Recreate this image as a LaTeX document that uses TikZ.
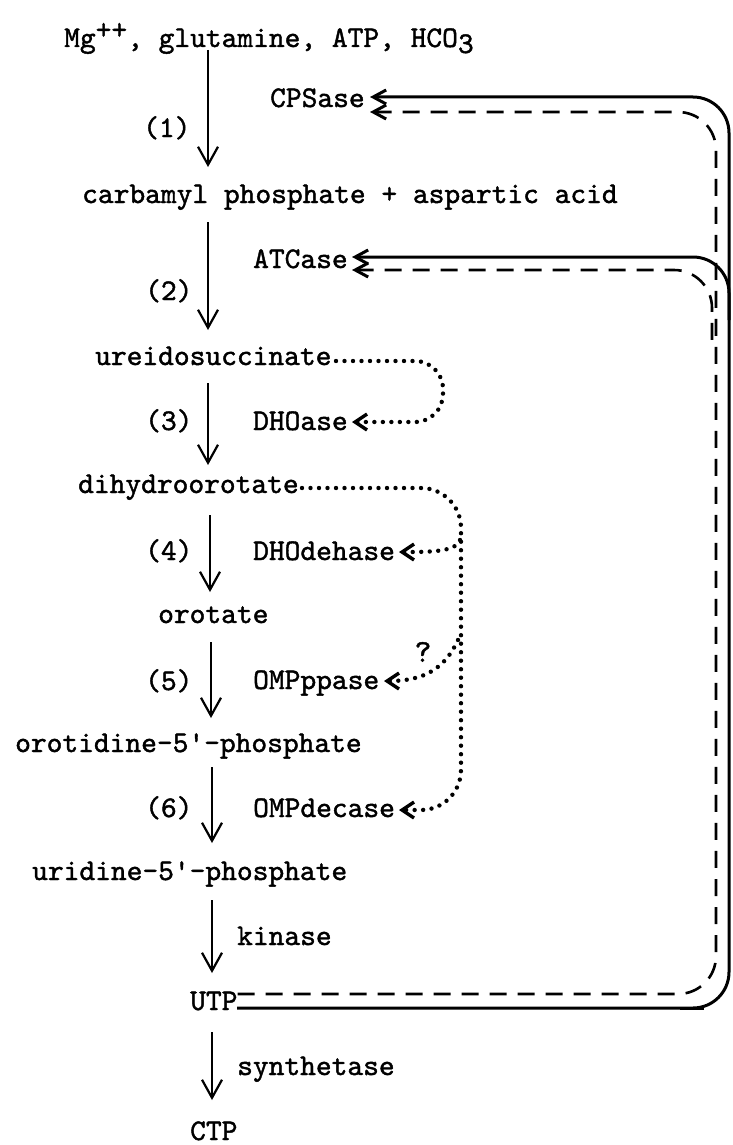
\documentclass[tikz,border=0pt]{standalone}
\usepackage{fontspec}
\newfontfamily\twfont{lmmono10-regular.otf}[FakeBold=1.4]
\usetikzlibrary{arrows.meta}
\begin{document}
\begin{tikzpicture}[x=1pt,y=-1pt,
  txt/.style={font=\twfont\fontsize{30}{30}\selectfont, inner sep=0pt, anchor=base west},
  rx/.style={-{Straight Barb[length=18pt,width=20pt,line width=2.2pt]}, line width=2.2pt},
  fbtip/.style={{Straight Barb[length=13pt,width=14pt,line width=3pt]}-},
  solidfb/.style={line width=3pt, rounded corners=36pt},
  dashfb/.style={line width=2.6pt, dash pattern=on 17pt off 11pt, rounded corners=38pt},
  dotfb/.style={line width=4.4pt, line cap=round, dash pattern=on 0pt off 8.5pt},
  dottip/.style={-{Straight Barb[length=12pt,width=16pt,line width=3.4pt]}}
]
\useasboundingbox (0,0) rectangle (732,1145);

% texts
\node[txt] (m0) at (64,47) {Mg\raisebox{8pt}{++}, glutamine, ATP, HCO\raisebox{-6pt}{3}};
\node[txt] (n1) at (143,137) {(1)};
\node[txt] (cps) at (270,107) {CPSase};
\node[txt] (cp) at (82,203) {carbamyl phosphate + aspartic acid};
\node[txt] (n2) at (145,300) {(2)};
\node[txt] (atc) at (253,268) {ATCase};
\node[txt] (uds) at (95,365) {ureidosuccinate};
\node[txt] (n3) at (145,430) {(3)};
\node[txt] (dhoase) at (253,430) {DHOase};
\node[txt] (dho) at (78,493) {dihydroorotate};
\node[txt] (n4) at (145,560) {(4)};
\node[txt] (dhod) at (253,560) {DHOdehase};
\node[txt] (oro) at (158,623) {orotate};
\node[txt] (n5) at (145,690) {(5)};
\node[txt] (ompp) at (253,689) {OMPppase};
\node[txt] (omp) at (15,752) {orotidine-5'-phosphate};
\node[txt] (n6) at (145,817) {(6)};
\node[txt] (ompd) at (253,817) {OMPdecase};
\node[txt] (ump) at (32,880) {uridine-5'-phosphate};
\node[txt] (kin) at (237,945) {kinase};
\node[txt] (utp) at (190,1010) {UTP};
\node[txt] (syn) at (237,1075) {synthetase};
\node[txt] (ctp) at (190,1140) {CTP};
\node[font=\twfont\fontsize{32}{32}\selectfont, inner sep=0pt] (q) at (423,652) {?};

% main reaction arrows
\coordinate (a1s) at (208,50);  \coordinate (a1e) at (208,167);
\coordinate (a2s) at (208,222); \coordinate (a2e) at (208,330);
\coordinate (a3s) at (208,383); \coordinate (a3e) at (208,465);
\coordinate (a4s) at (210,515); \coordinate (a4e) at (210,592);
\coordinate (a5s) at (211,642); \coordinate (a5e) at (211,718);
\coordinate (a6s) at (212,767); \coordinate (a6e) at (212,843);
\coordinate (a7s) at (212,900); \coordinate (a7e) at (212,973);
\coordinate (a8s) at (212,1032); \coordinate (a8e) at (212,1100);
\draw[rx] (a1s) -- (a1e);
\draw[rx] (a2s) -- (a2e);
\draw[rx] (a3s) -- (a3e);
\draw[rx] (a4s) -- (a4e);
\draw[rx] (a5s) -- (a5e);
\draw[rx] (a6s) -- (a6e);
\draw[rx] (a7s) -- (a7e);
\draw[rx] (a8s) -- (a8e);

% solid feedback (UTP -> CPSase, ATCase)
\coordinate (s0) at (237,1008);
\coordinate (sc1) at (729,1008);
\coordinate (sc2) at (729,97);
\coordinate (scp) at (370,97);
\coordinate (sat) at (352,257);
\coordinate (sa1) at (729,257);
\coordinate (sa2) at (729,320);
\coordinate (sx1) at (680,1008);
\coordinate (sx2) at (704,1008);
\draw[solidfb, fbtip] (scp) -- (sc2) -- (sc1) -- (s0);
\draw[solidfb, fbtip] (sat) -- (sa1) -- (sa2);
\draw[line width=3pt] (sx1) -- (sx2);

% dashed feedback
\coordinate (d0) at (237,994);
\coordinate (dc1) at (716,994);
\coordinate (dc2) at (716,112);
\coordinate (dcp) at (370,112);
\coordinate (dat) at (352,270);
\coordinate (da1) at (712,270);
\coordinate (da2) at (712,345);
\draw[dashfb, fbtip] (dcp) -- (dc2) -- (dc1) -- (d0);
\draw[dashfb, fbtip] (dat) -- (da1) -- (da2);

% dotted: ureidosuccinate -> DHOase
\coordinate (u0) at (336,361);
\coordinate (u1) at (443,361);
\coordinate (u2) at (443,422);
\coordinate (u3) at (352,422);
\draw[dotfb, dottip, rounded corners=28pt] (u0) -- (u1) -- (u2) -- (u3);

% dotted: dihydroorotate -> DHOdehase, OMPppase, OMPdecase
\coordinate (h0) at (302,488);
\coordinate (h1) at (461,488);
\coordinate (h2) at (461,810);
\coordinate (h3) at (399,810);
\draw[dotfb, dottip, rounded corners=40pt] (h0) -- (h1) -- (h2) -- (h3);
\coordinate (b1) at (460,540);
\coordinate (b1e) at (399,552);
\draw[dotfb, dottip] (b1) .. controls (456,552) and (430,552) .. (b1e);
\coordinate (b2) at (458,640);
\coordinate (b2e) at (384,681);
\draw[dotfb, dottip] (b2) .. controls (445,668) and (425,681) .. (b2e);
\end{tikzpicture}
\end{document}
